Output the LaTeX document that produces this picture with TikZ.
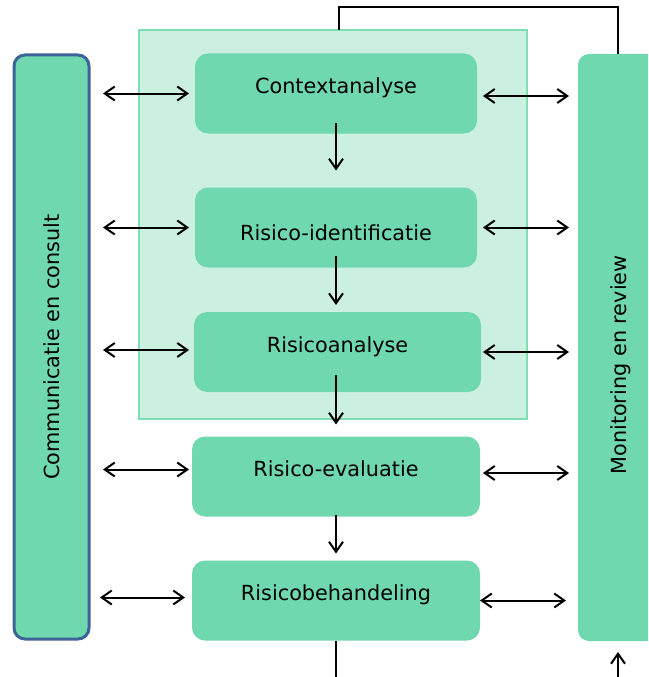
\documentclass[tikz,border=0pt]{standalone}
\usepackage{fontspec}
\setmainfont{DejaVu Sans}
\usetikzlibrary{arrows.meta}
\definecolor{boxgreen}{HTML}{6FD8AE}
\definecolor{panelfill}{HTML}{CCF0E0}
\definecolor{panelline}{HTML}{7EDDB5}
\definecolor{comblue}{HTML}{3D6399}
\tikzset{
	proc/.style={fill=boxgreen,rounded corners=13pt,minimum width=288pt,minimum height=80pt,inner sep=0pt,outer sep=0pt,text height=15pt,text depth=15pt},
	side/.style={fill=boxgreen,rounded corners=11pt,inner sep=0pt,outer sep=0pt},
	link/.style={<->,line width=2pt},
	flow/.style={->,line width=2pt},
	feed/.style={line width=1.3pt}
}
\begin{document}
\begin{tikzpicture}[x=1pt,y=-1pt,>={Straight Barb[length=10pt,width=14pt]},font=\fontsize{20.8}{25}\selectfont]
				\useasboundingbox (0,0) rectangle (648,677);
				\clip (0,0) rectangle (648,677);
				\node[draw=panelline,fill=panelfill,line width=1.5pt,minimum width=388pt,minimum height=389pt,inner sep=0pt,outer sep=0pt] (panel) at (333,224.5) {};
				\node[proc,minimum width=282pt] (ctx) at (336,93.5) {Contextanalyse};
				\node[proc,minimum width=282pt,text height=27pt,text depth=2pt] (ide) at (336,227.5) {Risico-identificatie};
				\node[proc,minimum width=287pt] (ana) at (337.5,352) {Risicoanalyse};
				\node[proc] (eva) at (336,476.5) {Risico-evaluatie};
				\node[proc] (beh) at (336,600.5) {Risicobehandeling};
				\node[side,draw=comblue,line width=3pt,minimum width=75pt,minimum height=584pt] (com) at (51.5,347) {};
				\node[side,minimum width=86pt,minimum height=587pt] (mon) at (621,347.5) {};
				\node[rotate=90] (comtext) at (com.center) {Communicatie en consult};
				\node[rotate=90] (montext) at ([yshift=-17.5pt]mon.center) {Monitoring en review};
				\draw[flow,shorten <=-11pt,shorten >=17pt] (ctx.south) -- (ide.north);
				\draw[flow,shorten <=-12pt,shorten >=7pt] (ide.south) -- (ide.south |- ana.north);
				\draw[flow,shorten <=-17pt,shorten >=12pt] (eva.north |- ana.south) -- (eva.north);
				\draw[flow,shorten <=-2pt,shorten >=7pt] (eva.south) -- (beh.north);
				\draw[link,shorten <=14pt,shorten >=6pt] (com.east |- ctx.west) -- (ctx.west);
				\draw[link,shorten <=14pt,shorten >=6pt] (com.east |- ide.west) -- (ide.west);
				\draw[link,shorten <=14pt,shorten >=5pt] ([yshift=2pt]com.east |- ana.west) -- ([yshift=2pt]ana.west);
				\draw[link,shorten <=14pt,shorten >=3pt] ([yshift=7pt]com.east |- eva.west) -- ([yshift=7pt]eva.west);
				\draw[link,shorten <=11pt,shorten >=7pt] ([yshift=3pt]com.east |- beh.west) -- ([yshift=3pt]beh.west);
				\draw[link,shorten <=6pt,shorten >=9pt] ([yshift=-2.5pt]ctx.east) -- ([yshift=-2.5pt]ctx.east -| mon.west);
				\draw[link,shorten <=6pt,shorten >=9pt] (ide.east) -- (ide.east -| mon.west);
				\draw[link,shorten <=2pt,shorten >=9pt] (ana.east) -- (ana.east -| mon.west);
				\draw[link,shorten <=3pt,shorten >=9pt] ([yshift=3.5pt]eva.east) -- ([yshift=3.5pt]eva.east -| mon.west);
				\draw[link,shorten <=0pt,shorten >=12pt] (beh.east) -- (beh.east -| mon.west);
				\draw[feed] ([xshift=6pt]panel.north) -- ++(0,-23) -| ([xshift=-3pt]mon.north);
				\draw[feed] (beh.south) -- ++(0,40);
				\coordinate (monin) at (618,680);
				\draw[flow] (monin) -- ([xshift=-3pt,yshift=-11pt]mon.south);
\end{tikzpicture}
\end{document}
